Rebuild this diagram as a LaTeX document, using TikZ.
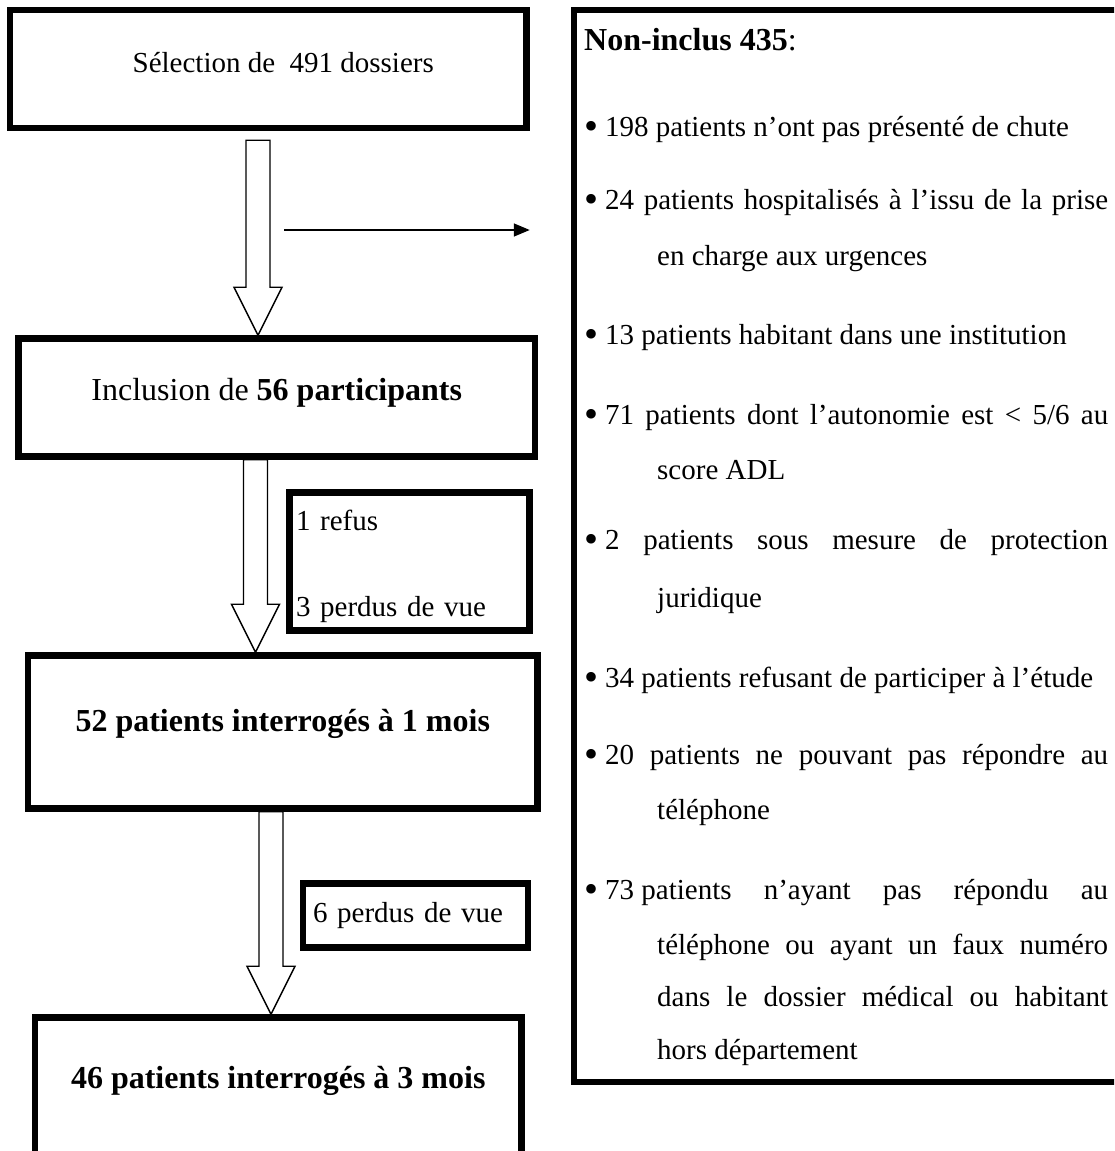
\documentclass[tikz,border=0pt]{standalone}
\usepackage{fontspec}
\setmainfont{Liberation Serif}
\usetikzlibrary{arrows.meta, calc}
\tikzset{
boite/.style={draw, line width=6.5pt, inner sep=0pt, text height=20pt}, % cadres epais
encart/.style={draw, line width=6.5pt, inner ysep=0pt, align=left, font=\fontsize{29}{35}\selectfont}, % petits cadres des perdus de vue
liste/.style={anchor=base west, inner sep=0pt, font=\fontsize{29}{35}\selectfont}, % lignes du cadre des non-inclus
creuse/.style={line width=1.4pt, fill=white}, % fleches creuses
fine/.style={-{Triangle[length=16pt, width=13pt]}, line width=1.6pt, shorten >=41pt}, % fleche vers les non-inclus
}
\newcommand{\puce}{\makebox[21pt][l]{\fontsize{40}{40}\selectfont\raisebox{-3pt}{\textbullet}}}
% fleche creuse : abscisse, noeud de depart, noeud d'arrivee, ecart au depart
\newcommand{\fleche}[4]{%
  \draw[creuse] let \p1=(#2.south), \p2=(#3.north) in
    (#1pt-12pt,\y1-#4) -- (#1pt+12pt,\y1-#4) -- (#1pt+12pt,\y2+48pt)
    -- (#1pt+24pt,\y2+48pt) -- (#1pt,\y2) -- (#1pt-24pt,\y2+48pt)
    -- (#1pt-12pt,\y2+48pt) -- cycle;}

\begin{document}
\begin{tikzpicture}[x=1pt, y=-1pt]
    \useasboundingbox (0,0) rectangle (1114,1151);
    \clip (0,0) rectangle (1114,1151);

    % colonne de gauche
    \node[boite, minimum width=516.5pt, minimum height=118pt, text depth=14pt, font=\fontsize{29}{35}\selectfont] (sel) at (268.25,69) {\hspace*{30pt}Sélection de~~491 dossiers};
    \node[boite, minimum width=516.5pt, minimum height=118pt, text depth=15pt, font=\fontsize{32}{36}\selectfont] (incl) at (276.75,397.5) {Inclusion de \textbf{56 participants}};
    \node[boite, minimum width=509.5pt, minimum height=153pt, text depth=22pt, font=\fontsize{32}{36}\selectfont\bfseries] (m1) at (282.75,732) {52 patients interrogés à 1 mois};
    \node[boite, minimum width=486.5pt, minimum height=182.5pt, text depth=61.5pt, font=\fontsize{32}{36}\selectfont\bfseries] (m3) at (278.25,1108.75) {46 patients interrogés à 3 mois};

    \node[encart, text width=227pt, inner xsep=6.5pt, minimum height=138pt] (perdus1) at (409.5,561.5) {\rule{0pt}{30pt}1 refus\\[51pt]3 perdus de vue};
    \node[encart, text width=205pt, inner xsep=10pt, minimum height=64pt] (perdus3) at (415.5,915.5) {6 perdus de vue};

    \fleche{258}{sel}{incl}{9pt}
    \fleche{255.5}{incl}{m1}{0pt}
    \fleche{271}{m1}{m3}{0pt}

    % cadre des non-inclus
    \node[boite, minimum width=626pt, minimum height=1072pt] (nonincl) at (887,546) {};
    \coordinate (depart) at (284,230);
    \draw[fine] (depart) -- (depart -| nonincl.west);

    \node[liste, font=\fontsize{32}{36}\selectfont] (ni) at (584,50) {\textbf{Non-inclus 435}:};
    \node[liste] (c1) at (584,136) {\puce 198 patients n’ont pas présenté de chute};
    \node[liste] (c2a) at (584,209) {\makebox[524pt][s]{\puce 24 patients hospitalisés à l’issu de la prise}};
    \node[liste] (c2b) at (657,265) {en charge aux urgences};
    \node[liste] (c3) at (584,344) {\puce 13 patients habitant dans une institution};
    \node[liste] (c4a) at (584,424) {\makebox[524pt][s]{\puce 71 patients dont l’autonomie est < 5/6 au}};
    \node[liste] (c4b) at (657,479) {score ADL};
    \node[liste] (c5a) at (584,549) {\makebox[524pt][s]{\puce 2 patients sous mesure de protection}};
    \node[liste] (c5b) at (657,607) {juridique};
    \node[liste] (c6) at (584,687) {\puce 34 patients refusant de participer à l’étude};
    \node[liste] (c7a) at (584,764) {\makebox[524pt][s]{\puce 20 patients ne pouvant pas répondre au}};
    \node[liste] (c7b) at (657,819) {téléphone};
    \node[liste] (c8a) at (584,899) {\makebox[524pt][s]{\puce \mbox{73 patients} n’ayant pas répondu au}};
    \node[liste] (c8b) at (657,954) {\makebox[451pt][s]{téléphone ou ayant un faux numéro}};
    \node[liste] (c8c) at (657,1006) {\makebox[451pt][s]{dans le dossier médical ou habitant}};
    \node[liste] (c8d) at (657,1059) {hors département};
\end{tikzpicture}
\end{document}
